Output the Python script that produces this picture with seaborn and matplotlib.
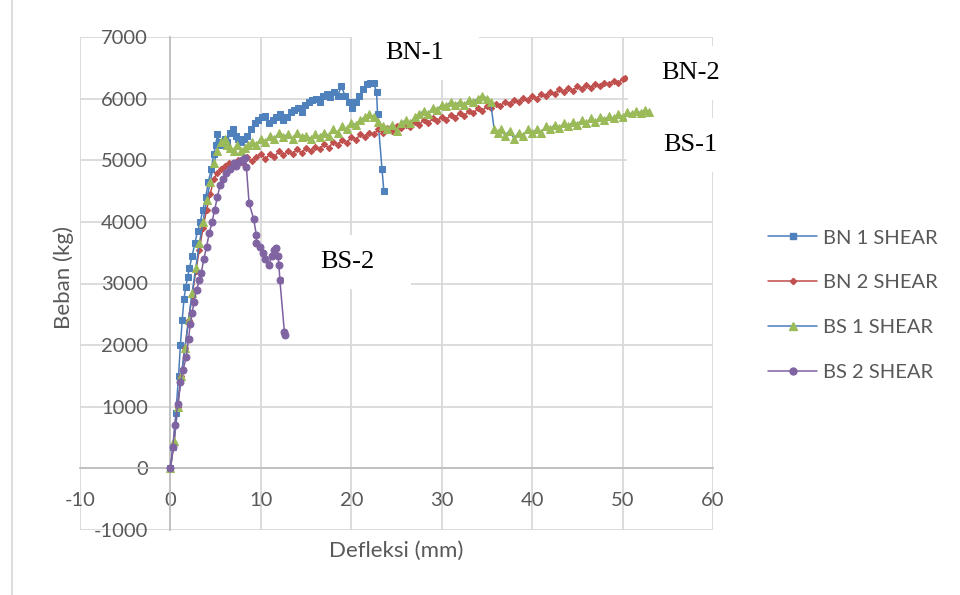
import matplotlib
matplotlib.use('Agg')
import matplotlib.pyplot as plt
from matplotlib.patches import Rectangle
from matplotlib.lines import Line2D
import seaborn as sns

# --- data (deflection mm, load kg) ---
bn1_x = [0, 0.3, 0.6, 0.9, 1.1, 1.3, 1.5, 1.7, 1.9, 2.1, 2.4, 2.7, 3.0, 3.3, 3.6, 3.9,
         4.2, 4.5, 4.8, 5.0, 5.2, 5.4, 5.7, 6.0, 6.3, 6.6, 6.9, 7.2, 7.5, 7.8, 8.1, 8.5,
         8.9, 9.3, 9.7, 10.1, 10.5, 10.9, 11.3, 11.7, 12.1, 12.5, 12.9, 13.3, 13.7, 14.1,
         14.5, 14.9, 15.3, 15.7, 16.1, 16.5, 16.9, 17.3, 17.7, 18.1, 18.5, 18.9, 19.3,
         19.7, 20.1, 20.5, 20.9, 21.3, 21.7, 22.1, 22.5, 22.8, 22.9, 23.4, 23.6]
bn1_y = [0, 350, 900, 1500, 2000, 2400, 2750, 2950, 3100, 3250, 3450, 3650, 3850, 4000,
         4200, 4400, 4650, 4850, 5100, 5250, 5420, 5300, 5250, 5350, 5300, 5450, 5500,
         5400, 5350, 5300, 5350, 5400, 5500, 5600, 5650, 5700, 5720, 5600, 5650, 5700,
         5750, 5650, 5700, 5780, 5820, 5850, 5780, 5900, 5950, 5980, 6000, 5950, 6050,
         6080, 6020, 6100, 6050, 6200, 6050, 5950, 5850, 5950, 6050, 6150, 6230, 6250,
         6250, 6100, 5750, 4850, 4500]

bn2_x = [0, 0.4, 0.8, 1.2, 1.6, 2.0, 2.4, 2.8, 3.2, 3.6, 4.0, 4.4, 4.8, 5.2, 5.6, 6.0,
         6.5, 7.0, 7.5, 8.0, 8.5, 9.0, 9.5, 10, 10.5, 11, 11.5, 12, 12.5, 13, 13.5, 14,
         14.5, 15, 15.5, 16, 16.5, 17, 17.5, 18, 18.5, 19, 19.5, 20, 20.5, 21, 21.5, 22,
         22.5, 23, 23.5, 24, 24.5, 25, 25.5, 26, 26.5, 27, 27.5, 28, 28.5, 29, 29.5, 30,
         30.5, 31, 31.5, 32, 32.5, 33, 33.5, 34, 34.5, 35, 35.5, 36, 36.5, 37, 37.5, 38,
         38.5, 39, 39.5, 40, 40.5, 41, 41.5, 42, 42.5, 43, 43.5, 44, 44.5, 45, 45.5, 46,
         46.5, 47, 47.5, 48, 48.5, 49, 49.5, 50, 50.3]
bn2_y = [0, 400, 1000, 1500, 1950, 2400, 2800, 3200, 3550, 3900, 4200, 4450, 4700, 4800,
         4850, 4900, 4950, 4900, 5000, 4950, 5050, 4980, 5050, 5100, 5020, 5100, 5050,
         5150, 5080, 5150, 5100, 5180, 5120, 5200, 5150, 5220, 5180, 5260, 5200, 5300,
         5250, 5330, 5280, 5380, 5330, 5420, 5380, 5450, 5420, 5500, 5450, 5530, 5480,
         5550, 5520, 5580, 5540, 5620, 5580, 5650, 5600, 5680, 5640, 5700, 5660, 5730,
         5690, 5770, 5720, 5800, 5760, 5840, 5800, 5880, 5850, 5920, 5880, 5950, 5910,
         5980, 5940, 6010, 5970, 6040, 6000, 6080, 6040, 6110, 6070, 6150, 6100, 6180,
         6130, 6200, 6160, 6220, 6180, 6240, 6200, 6260, 6230, 6290, 6250, 6320, 6330]

bs1_x = [0, 0.4, 0.8, 1.2, 1.6, 2.0, 2.4, 2.8, 3.2, 3.6, 4.0, 4.4, 4.8, 5.2, 5.6, 6.0,
         6.3, 6.6, 7.0, 7.4, 7.8, 8.2, 8.6, 9.0, 9.5, 10, 10.5, 11, 11.5, 12, 12.5, 13,
         13.5, 14, 14.5, 15, 15.5, 16, 16.5, 17, 17.5, 18, 18.5, 19, 19.5, 20, 20.5, 21,
         21.5, 22, 22.5, 23, 23.5, 24, 24.5, 25, 25.5, 26, 26.5, 27, 27.5, 28, 28.5, 29,
         29.5, 30, 30.5, 31, 31.5, 32, 32.5, 33, 33.5, 34, 34.5, 35, 35.4, 35.8, 36.2,
         36.6, 37, 37.5, 38, 38.5, 39, 39.5, 40, 40.5, 41, 41.5, 42, 42.5, 43, 43.5, 44,
         44.5, 45, 45.5, 46, 46.5, 47, 47.5, 48, 48.5, 49, 49.5, 50, 50.5, 51, 51.5, 52,
         52.5, 52.9]
bs1_y = [0, 450, 1000, 1500, 1950, 2400, 2850, 3250, 3650, 4000, 4350, 4650, 4950, 5150,
         5300, 5350, 5250, 5200, 5150, 5250, 5150, 5200, 5250, 5300, 5250, 5350, 5300,
         5400, 5350, 5450, 5380, 5420, 5350, 5450, 5380, 5400, 5350, 5420, 5380, 5450,
         5400, 5500, 5450, 5550, 5500, 5600, 5580, 5650, 5700, 5750, 5700, 5620, 5550,
         5500, 5580, 5480, 5600, 5650, 5600, 5700, 5750, 5800, 5750, 5850, 5820, 5900,
         5880, 5950, 5900, 5950, 5900, 5980, 5950, 6000, 6050, 6000, 5950, 5500, 5450,
         5500, 5400, 5480, 5350, 5450, 5400, 5500, 5450, 5500, 5450, 5550, 5500, 5580,
         5520, 5600, 5550, 5620, 5580, 5650, 5600, 5680, 5620, 5700, 5650, 5720, 5680,
         5750, 5700, 5780, 5750, 5800, 5770, 5820, 5780]

bs2_x = [0, 0.25, 0.5, 0.8, 1.1, 1.4, 1.75, 2.0, 2.2, 2.4, 2.6, 2.9, 3.2, 3.4, 3.7, 4.0,
         4.3, 4.6, 4.9, 5.2, 5.5, 5.8, 6.2, 6.6, 7.0, 7.3, 7.6, 7.9, 8.2, 8.4, 8.7, 9.2,
         9.5, 9.5, 9.9, 10.2, 10.5, 10.9, 11.2, 11.5, 11.7, 11.9, 12.0, 12.1, 12.6, 12.7]
bs2_y = [0, 340, 700, 1050, 1400, 1600, 1810, 2100, 2350, 2520, 2700, 2900, 3050, 3170,
         3400, 3600, 3820, 4000, 4200, 4410, 4600, 4700, 4790, 4850, 4950, 4900, 4970,
         5000, 5040, 4890, 4300, 4050, 3790, 3660, 3600, 3500, 3400, 3300, 3450, 3550,
         3580, 3450, 3300, 3060, 2220, 2160]

labels = ['BN 1 SHEAR', 'BN 2 SHEAR', 'BS 1 SHEAR', 'BS 2 SHEAR']
x_ticks = [-10, 0, 10, 20, 30, 40, 50, 60]
y_ticks = [-1000, 0, 1000, 2000, 3000, 4000, 5000, 6000, 7000]

sns.set_style('white')
plt.rcParams['font.family'] = ['Lato', 'DejaVu Sans']
plt.rcParams['axes.unicode_minus'] = False

W, H = 960, 595
fig = plt.figure(figsize=(9.6, 5.95), dpi=100)
ax = fig.add_axes([80 / W, 1 - 530 / H, (713 - 80) / W, (530 - 37) / H])

series = [
    (bn1_x, bn1_y, '#4A7EBB', 's', '#4F81BD', 4.5),
    (bn2_x, bn2_y, '#BE4B48', 'D', '#C0504D', 3.2),
    (bs1_x, bs1_y, '#4A7EBB', '^', '#9BBB59', 5.5),
    (bs2_x, bs2_y, '#7D60A0', 'o', '#8064A2', 5.0),
]
handles = []
for (xs, ys, lc, mk, mc, ms), lab in zip(series, labels):
    sns.lineplot(x=xs, y=ys, sort=False, estimator=None, ax=ax, color=lc, lw=1.1,
                 marker=mk, markersize=ms, markerfacecolor=mc, markeredgecolor=mc,
                 zorder=3)
    handles.append(Line2D([], [], color=lc, lw=1.1, marker=mk, markersize=ms,
                          markerfacecolor=mc, markeredgecolor=mc, label=lab))

ax.set_xlim(-10, 60)
ax.set_ylim(-1000, 7000)
ax.set_xticks(x_ticks)
ax.set_yticks(y_ticks)
ax.grid(True, color='#D9D9D9', lw=1.3)
ax.set_axisbelow(True)
for s in ['top', 'right']:
    ax.spines[s].set_visible(False)
ax.spines['left'].set_position(('data', 0))
ax.spines['bottom'].set_position(('data', 0))
for s in ['left', 'bottom']:
    ax.spines[s].set_color('#BFBFBF')
    ax.spines[s].set_linewidth(1.3)
    ax.spines[s].set_zorder(2)
ax.tick_params(axis='both', length=0, labelsize=14.5, labelcolor='#595959')
ax.tick_params(axis='y', pad=16)
ax.tick_params(axis='x', pad=17)

ax.set_xlabel('Defleksi (mm)', fontsize=16, color='#595959')
ax.set_ylabel('Beban (kg)', fontsize=16, color='#595959')
ax.xaxis.set_label_coords(0.5, -0.022)
ax.yaxis.set_label_coords(-0.01, 0.513)

fig.legend(handles=handles, loc='center left', bbox_to_anchor=(768 / W, 1 - 305 / H),
           frameon=False, fontsize=14.5, labelcolor='#595959', handlelength=2.45,
           handletextpad=0.3, labelspacing=1.37, borderpad=0, borderaxespad=0)

# text boxes laid over the chart (pixel centres)
def note(cx, cy, s):
    fig.add_artist(Rectangle(((cx - 63) / W, 1 - (cy + 27) / H), 127 / W, 54 / H,
                             transform=fig.transFigure, fc='white', ec='none', zorder=4))
    fig.text(cx / W, 1 - cy / H, s, ha='center', va='center', fontsize=19,
             family=['Liberation Serif'], color='black', zorder=5)

note(415, 53, 'BN-1')
note(691, 73, 'BN-2')
note(690, 145, 'BS-1')
note(347, 262, 'BS-2')

# outer chart border
fig.add_artist(Line2D([12 / W, 12 / W], [0, 1], transform=fig.transFigure,
                      color='#D9D9D9', lw=1.3))

fig.savefig('out.png', dpi=100)
